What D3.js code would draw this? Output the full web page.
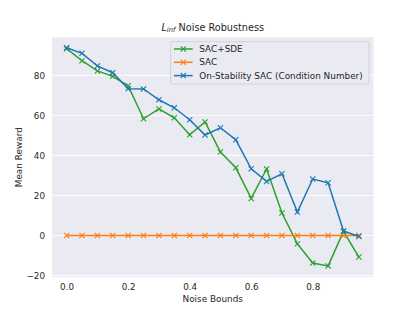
<!DOCTYPE html>
<html>
<head>
<meta charset="utf-8">
<script src="https://cdn.jsdelivr.net/npm/d3@7"></script>
<style>
body { margin: 0; background: #fff; }
text { font-family: "DejaVu Sans", sans-serif; fill: #262626; }
</style>
</head>
<body>
<svg id="chart" width="415" height="311"></svg>
<script>
// noise bounds on the x axis
var noiseBounds = [0.0, 0.05, 0.1, 0.15, 0.2, 0.25, 0.3, 0.35, 0.4, 0.45,
    0.5, 0.55, 0.6, 0.65, 0.7, 0.75, 0.8, 0.85, 0.9, 0.95];

var sacSde = [93.3, 87.3, 82.2, 79.5, 74.8, 58.3, 63.2, 58.8, 50.3, 56.7,
    41.7, 33.8, 18.5, 33.2, 11.2, -4.2, -13.8, -15.2, 2.0, -10.8];
var sac = [0, 0, 0, 0, 0, 0, 0, 0, 0, 0, 0, 0, 0, 0, 0, 0, 0, 0, 0, 0];
var onStability = [93.8, 91.0, 84.7, 81.3, 73.3, 73.2, 67.8, 63.8, 57.8, 50.2,
    53.8, 47.8, 33.3, 27.0, 30.8, 11.7, 28.2, 26.3, 2.2, -0.5];

var seriesNames = ["SAC+SDE", "SAC", "On-Stability SAC (Condition Number)"];
var seriesColors = ["#2ca02c", "#ff7f0e", "#1f77b4"];
var xTicks = [0.0, 0.2, 0.4, 0.6, 0.8];
var yTicks = [-20, 0, 20, 40, 60, 80];

var svg = d3.select("#chart");
var plotLeft = 52, plotRight = 373.5, plotTop = 37.3, plotBottom = 277.2;

var x = d3.scaleLinear().domain([-0.0475, 0.9975]).range([plotLeft, plotRight]);
var y = d3.scaleLinear().domain([-20.85, 99]).range([plotBottom, plotTop]);

svg.append("rect")
    .attr("x", plotLeft).attr("y", plotTop)
    .attr("width", plotRight - plotLeft).attr("height", plotBottom - plotTop)
    .attr("fill", "#eaeaf2");

// horizontal grid only
svg.append("g").selectAll("line")
    .data(yTicks)
    .enter()
    .append("line")
    .attr("x1", plotLeft).attr("x2", plotRight)
    .attr("y1", function(d) { return y(d); })
    .attr("y2", function(d) { return y(d); })
    .attr("stroke", "#fff")
    .attr("stroke-width", 0.9);

var xAxis = svg.append("g")
    .attr("transform", "translate(0," + plotBottom + ")")
    .call(d3.axisBottom(x).tickValues(xTicks).tickSize(0).tickPadding(7)
        .tickFormat(d3.format(".1f")));
xAxis.select(".domain").remove();
xAxis.selectAll("text").style("font-size", "8.8px").style("fill", "#262626")
    .style("font-family", "DejaVu Sans");

var yAxis = svg.append("g")
    .attr("transform", "translate(" + plotLeft + ",0)")
    .call(d3.axisLeft(y).tickValues(yTicks).tickSize(0).tickPadding(7)
        .tickFormat(function(d) { return d < 0 ? "\u2212" + Math.abs(d) : d; }));
yAxis.select(".domain").remove();
yAxis.selectAll("text").style("font-size", "8.8px").style("fill", "#262626")
    .style("font-family", "DejaVu Sans");

var allSeries = [sacSde, sac, onStability];
var line = d3.line()
    .x(function(d, i) { return x(noiseBounds[i]); })
    .y(function(d) { return y(d); });

var xMark = function(g, cx, cy, color) {
    var s = 2.6;
    g.append("path")
        .attr("d", "M" + (cx - s) + "," + (cy - s) + "L" + (cx + s) + "," + (cy + s) +
            "M" + (cx - s) + "," + (cy + s) + "L" + (cx + s) + "," + (cy - s))
        .attr("stroke", color)
        .attr("stroke-width", 1.1)
        .attr("fill", "none");
};

allSeries.forEach(function(vals, k) {
    var g = svg.append("g");
    g.append("path")
        .datum(vals)
        .attr("d", line)
        .attr("fill", "none")
        .attr("stroke", seriesColors[k])
        .attr("stroke-width", 1.5);
    vals.forEach(function(v, i) {
        xMark(g, x(noiseBounds[i]), y(v), seriesColors[k]);
    });
});

// legend
var lg = svg.append("g");
lg.append("rect")
    .attr("x", 170.7).attr("y", 41.7)
    .attr("width", 198.3).attr("height", 42.3)
    .attr("rx", 2)
    .attr("fill", "#eaeaf2")
    .attr("fill-opacity", 0.8)
    .attr("stroke", "#cccccc")
    .attr("stroke-width", 0.8);
seriesNames.forEach(function(name, k) {
    var ly = 49 + k * 13.3;
    lg.append("line")
        .attr("x1", 174).attr("x2", 192.7)
        .attr("y1", ly).attr("y2", ly)
        .attr("stroke", seriesColors[k])
        .attr("stroke-width", 1.5);
    xMark(lg, 183.3, ly, seriesColors[k]);
    lg.append("text")
        .attr("x", 199.3).attr("y", ly)
        .attr("dy", "0.35em")
        .style("font-size", "8.9px")
        .text(name);
});

// title
var title = svg.append("text")
    .attr("x", (plotLeft + plotRight) / 2)
    .attr("y", 30.5)
    .attr("text-anchor", "middle")
    .style("font-size", "9.7px");
title.append("tspan").style("font-style", "italic").text("L");
title.append("tspan").style("font-style", "italic").style("font-size", "6.8px")
    .attr("dy", 1.6).text("inf");
title.append("tspan").attr("dy", -1.6).text(" Noise Robustness");

svg.append("text")
    .attr("x", (plotLeft + plotRight) / 2)
    .attr("y", 302)
    .attr("text-anchor", "middle")
    .style("font-size", "8.9px")
    .text("Noise Bounds");

svg.append("text")
    .attr("transform", "translate(21.5," + ((plotTop + plotBottom) / 2) + ") rotate(-90)")
    .attr("text-anchor", "middle")
    .style("font-size", "8.9px")
    .text("Mean Reward");
</script>
</body>
</html>
